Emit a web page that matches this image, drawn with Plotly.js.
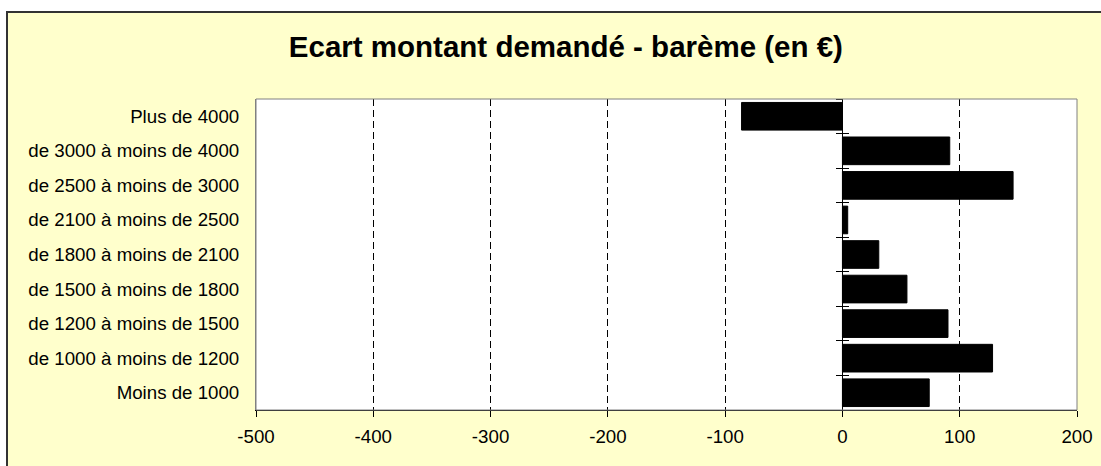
<!DOCTYPE html>
<html>
<head>
<meta charset="utf-8">
<script src="https://cdn.plot.ly/plotly-3.0.1.min.js"></script>
<style>
html,body{margin:0;padding:0;background:#ffffff;overflow:hidden;}
#frame{position:absolute;left:6px;top:11px;width:1200px;height:600px;background:#FFFFCC;border-left:2px solid #333;border-top:2px solid #333;}
#chart{position:absolute;left:0;top:0;width:1101px;height:466px;}
</style>
</head>
<body>
<div id="frame"></div>
<div id="chart"></div>
<script>
const categories = [
  "Plus de 4000",
  "de 3000 à moins de 4000",
  "de 2500 à moins de 3000",
  "de 2100 à moins de 2500",
  "de 1800 à moins de 2100",
  "de 1500 à moins de 1800",
  "de 1200 à moins de 1500",
  "de 1000 à moins de 1200",
  "Moins de 1000"
];
const values = [-86, 91.5, 145.5, 4.5, 31, 55, 90, 128, 74];
const xTickVals = [-500, -400, -300, -200, -100, 0, 100, 200];
const xRange = [-500, 200];
const titleText = "Ecart montant demandé - barème (en €)";

const zeroPos = (0 - xRange[0]) / (xRange[1] - xRange[0]);

const font = {family: "Liberation Sans, Arial, sans-serif", size: 18.7, color: "#000"};

const traces = [
  {type: "bar", orientation: "h", y: categories, x: values,
   marker: {color: "#000", line: {color: "#000", width: 1}},
   hoverinfo: "skip", showlegend: false},
  {type: "bar", orientation: "h", y: categories, x: values, yaxis: "y2",
   marker: {color: "rgba(0,0,0,0)"}, hoverinfo: "skip", showlegend: false},
  {type: "bar", orientation: "h", y: categories, x: values, yaxis: "y3",
   marker: {color: "rgba(0,0,0,0)"}, hoverinfo: "skip", showlegend: false}
];

const yCommon = {type: "category", autorange: "reversed", categoryorder: "array", categoryarray: categories};

const layout = {
  width: 1101, height: 466,
  margin: {l: 256, r: 24, t: 99, b: 56},
  paper_bgcolor: "rgba(0,0,0,0)",
  plot_bgcolor: "#ffffff",
  font: font,
  bargap: 0.2,
  showlegend: false,
  title: {text: "<b>" + titleText + "</b>", font: {family: "Liberation Sans, Arial, sans-serif", size: 29.5, color: "#000"},
          xref: "container", x: 0.514, xanchor: "center", yref: "container", y: 0.9, yanchor: "middle"},
  xaxis: {range: xRange, tickmode: "array", tickvals: xTickVals, ticktext: xTickVals.map(String),
          showgrid: true, gridcolor: "#000", griddash: "7px,4px", gridwidth: 1,
          zeroline: true, zerolinecolor: "#000", zerolinewidth: 1,
          showline: true, linecolor: "#000", linewidth: 1, mirror: false,
          ticks: "outside", ticklen: 6, tickcolor: "#000", ticklabelstandoff: 4, tickfont: font, fixedrange: true},
  yaxis: Object.assign({}, yCommon, {showgrid: false, zeroline: false, showline: true, linecolor: "#808080", linewidth: 1,
          ticks: "", ticklabelstandoff: 12, tickfont: font, fixedrange: true}),
  yaxis2: Object.assign({}, yCommon, {overlaying: "y", anchor: "free", position: zeroPos, showticklabels: false,
          showgrid: false, zeroline: false, showline: false, tickson: "boundaries", ticks: "outside", ticklen: 6, tickcolor: "#000", fixedrange: true}),
  yaxis3: Object.assign({}, yCommon, {overlaying: "y", anchor: "free", position: zeroPos, showticklabels: false,
          showgrid: false, zeroline: false, showline: false, tickson: "boundaries", ticks: "inside", ticklen: 6, tickcolor: "#000", fixedrange: true}),
  shapes: [
    {type: "rect", xref: "paper", yref: "paper", x0: 0, x1: 1, y0: 0, y1: 1, line: {color: "#808080", width: 1}, layer: "above"}
  ]
};

Plotly.newPlot("chart", traces, layout, {staticPlot: true, displayModeBar: false});
</script>
</body>
</html>
